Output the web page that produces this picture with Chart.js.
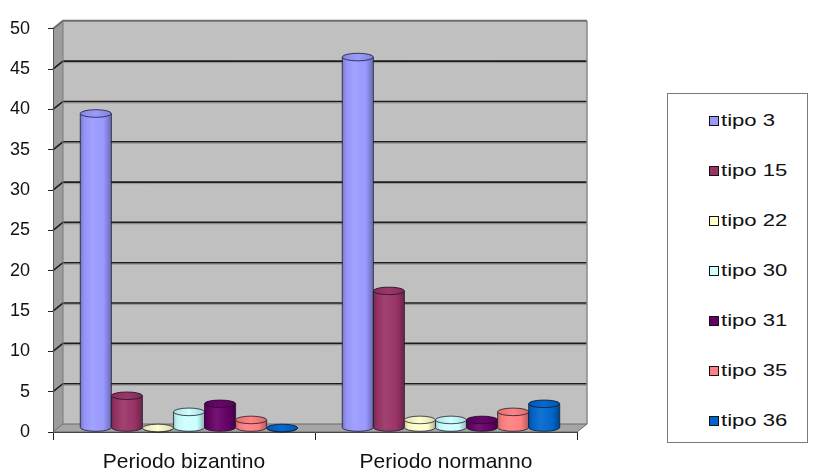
<!DOCTYPE html>
<html>
<head>
<meta charset="utf-8">
<script src="https://cdn.jsdelivr.net/npm/chart.js@4.4.0/dist/chart.umd.min.js"></script>
<style>
  html, body { margin: 0; padding: 0; background: #fff; }
  #wrap { position: relative; width: 820px; height: 473px; }
  #c { position: absolute; left: 0; top: 0; }
  #legend {
    position: absolute; left: 667px; top: 93px; width: 141px; height: 350px;
    border: 1px solid #7a7a7a; box-sizing: border-box; background: #fff;
    font-family: "Liberation Sans", Arial, sans-serif;
  }
  .item { position: absolute; left: 41px; height: 16px; display: flex; align-items: center; }
  .sw { width: 8px; height: 8px; border: 1px solid #111; flex: none; }
  .lbl {
    font-size: 16px; line-height: 16px; color: #111; margin-left: 2px; white-space: nowrap;
    transform: scaleX(1.38); transform-origin: left center;
  }
</style>
</head>
<body>
<div id="wrap">
  <canvas id="c" width="820" height="473"></canvas>
  <div id="legend"></div>
</div>
<script>
// Categories and per-type counts
const categories = ['Periodo bizantino', 'Periodo normanno'];
const seriesNames = ['tipo 3', 'tipo 15', 'tipo 22', 'tipo 30', 'tipo 31', 'tipo 35', 'tipo 36'];
const tipo3  = [39, 46];
const tipo15 = [4, 17];
const tipo22 = [0, 1];
const tipo30 = [2, 1];
const tipo31 = [3, 1];
const tipo35 = [1, 2];
const tipo36 = [0, 3];
const yMin = 0, yMax = 50, yStep = 5;

// Classic office palette for the series
const seriesColors = ['#9999FF', '#993366', '#FFFFCC', '#CCFFFF', '#660066', '#FF8080', '#0066CC'];
const seriesValues = [tipo3, tipo15, tipo22, tipo30, tipo31, tipo35, tipo36];

// Depth of the 3D box (back wall offset); cylinders stand at half depth
const DEPTH_X = 10, DEPTH_Y = -8;

function shade(hex, amt) {
  const n = parseInt(hex.slice(1), 16);
  let r = (n >> 16) & 255, g = (n >> 8) & 255, b = n & 255;
  const f = c => amt < 0 ? Math.round(c * (1 + amt)) : Math.round(c + (255 - c) * amt);
  return 'rgb(' + f(r) + ',' + f(g) + ',' + f(b) + ')';
}

function drawCylinder(ctx, cx, top, base, r, ry, color) {
  const grad = ctx.createLinearGradient(cx - r, 0, cx + r, 0);
  grad.addColorStop(0, shade(color, -0.22));
  grad.addColorStop(0.12, shade(color, -0.04));
  grad.addColorStop(0.38, shade(color, 0.08));
  grad.addColorStop(0.75, color);
  grad.addColorStop(1, shade(color, -0.3));
  ctx.save();
  ctx.lineWidth = 1;
  ctx.strokeStyle = 'rgba(20,20,40,0.75)';
  // body
  ctx.beginPath();
  ctx.moveTo(cx - r, top);
  ctx.lineTo(cx - r, base);
  ctx.ellipse(cx, base, r, ry, 0, Math.PI, 0, true);
  ctx.lineTo(cx + r, top);
  ctx.ellipse(cx, top, r, ry, 0, 0, Math.PI, true);
  ctx.closePath();
  ctx.fillStyle = grad;
  ctx.fill();
  ctx.beginPath();
  ctx.moveTo(cx - r, top);
  ctx.lineTo(cx - r, base);
  ctx.ellipse(cx, base, r, ry, 0, Math.PI, 0, true);
  ctx.lineTo(cx + r, top);
  ctx.stroke();
  // top face
  const tg = ctx.createLinearGradient(cx - r, 0, cx + r, 0);
  tg.addColorStop(0, shade(color, -0.12));
  tg.addColorStop(0.5, shade(color, 0.02));
  tg.addColorStop(1, shade(color, -0.15));
  ctx.beginPath();
  ctx.ellipse(cx, top, r, ry, 0, 0, Math.PI * 2);
  ctx.fillStyle = tg;
  ctx.fill();
  ctx.stroke();
  ctx.restore();
}

const box3d = {
  id: 'box3d',
  beforeDraw(chart) {
    const { ctx, chartArea: a, scales: { y } } = chart;
    const dx = DEPTH_X, dy = DEPTH_Y;
    ctx.save();
    // back wall
    ctx.fillStyle = '#c0c0c0';
    ctx.fillRect(a.left + dx, a.top + dy, a.right - a.left, a.bottom - a.top);
    // left wall
    ctx.beginPath();
    ctx.moveTo(a.left, a.top);
    ctx.lineTo(a.left + dx, a.top + dy);
    ctx.lineTo(a.left + dx, a.bottom + dy);
    ctx.lineTo(a.left, a.bottom);
    ctx.closePath();
    ctx.fillStyle = '#9c9c9c';
    ctx.fill();
    // floor
    ctx.beginPath();
    ctx.moveTo(a.left, a.bottom);
    ctx.lineTo(a.left + dx, a.bottom + dy);
    ctx.lineTo(a.right + dx, a.bottom + dy);
    ctx.lineTo(a.right, a.bottom);
    ctx.closePath();
    ctx.fillStyle = '#a6a6a6';
    ctx.fill();
    ctx.strokeStyle = '#6a6a6a';
    ctx.lineWidth = 1;
    ctx.stroke();
    // gridlines along the left wall and back wall
    for (let v = yMin + yStep; v <= yMax; v += yStep) {
      const py = y.getPixelForValue(v);
      ctx.beginPath();
      ctx.moveTo(a.left, py);
      ctx.lineTo(a.left + dx, py + dy);
      ctx.lineTo(a.right + dx, py + dy);
      ctx.strokeStyle = v === yMax ? '#6e6e6e' : '#1c1c1c';
      ctx.lineWidth = v === yMax ? 2 : 1.6;
      ctx.stroke();
      if (v !== yMax) {
        ctx.beginPath();
        ctx.moveTo(a.left + dx, py + dy + 1.5);
        ctx.lineTo(a.right + dx, py + dy + 1.5);
        ctx.strokeStyle = 'rgba(120,120,120,0.6)';
        ctx.lineWidth = 1;
        ctx.stroke();
      }
    }
    // right edge of the back wall
    ctx.beginPath();
    ctx.moveTo(a.right + dx, a.top + dy);
    ctx.lineTo(a.right + dx, a.bottom + dy);
    ctx.strokeStyle = '#8a8a8a';
    ctx.lineWidth = 1.5;
    ctx.stroke();
    // left wall outline
    ctx.beginPath();
    ctx.moveTo(a.left + dx, a.top + dy);
    ctx.lineTo(a.left + dx, a.bottom + dy);
    ctx.strokeStyle = '#7a7a7a';
    ctx.lineWidth = 1;
    ctx.stroke();
    ctx.restore();
  },
  beforeDatasetsDraw(chart) {
    const ctx = chart.ctx;
    const ox = DEPTH_X / 2, oy = DEPTH_Y / 2;
    chart.data.datasets.forEach((ds, i) => {
      const meta = chart.getDatasetMeta(i);
      meta.data.forEach(el => {
        const r = el.width / 2;
        drawCylinder(ctx, el.x + ox, el.y + oy, el.base + oy, r, 3.8, ds.backgroundColor);
      });
    });
    return false;
  }
};

new Chart(document.getElementById('c'), {
  type: 'bar',
  data: {
    labels: categories,
    datasets: seriesNames.map((name, i) => ({
      label: name,
      data: seriesValues[i],
      backgroundColor: seriesColors[i],
      barPercentage: 1.0,
      categoryPercentage: 0.83
    }))
  },
  options: {
    responsive: false,
    animation: false,
    layout: { padding: { top: 22, right: 243, left: 0, bottom: 0 } },
    plugins: { legend: { display: false }, tooltip: { enabled: false } },
    scales: {
      x: {
        afterFit(s) { s.height = 41; },
        grid: { drawOnChartArea: false, drawTicks: true, tickLength: 8, color: '#222', offset: true },
        border: { display: true, color: '#444', width: 1 },
        ticks: { color: '#111', padding: 10, font: { family: '"Liberation Sans", Arial, sans-serif', size: 21 } }
      },
      y: {
        min: yMin, max: yMax,
        afterFit(s) { s.width = 53; },
        grid: { drawOnChartArea: false, drawTicks: true, tickLength: 5, color: '#222' },
        border: { display: true, color: '#555', width: 1 },
        ticks: { stepSize: yStep, color: '#111', padding: 18, font: { family: '"Liberation Sans", Arial, sans-serif', size: 18 } }
      }
    }
  },
  plugins: [box3d]
});

// Legend built from the same series arrays
const legend = document.getElementById('legend');
seriesNames.forEach((name, i) => {
  const item = document.createElement('div');
  item.className = 'item';
  item.style.top = (18.5 + i * 50) + 'px';
  const sw = document.createElement('span');
  sw.className = 'sw';
  sw.style.background = seriesColors[i];
  const lbl = document.createElement('span');
  lbl.className = 'lbl';
  lbl.textContent = name;
  item.appendChild(sw);
  item.appendChild(lbl);
  legend.appendChild(item);
});
</script>
</body>
</html>
